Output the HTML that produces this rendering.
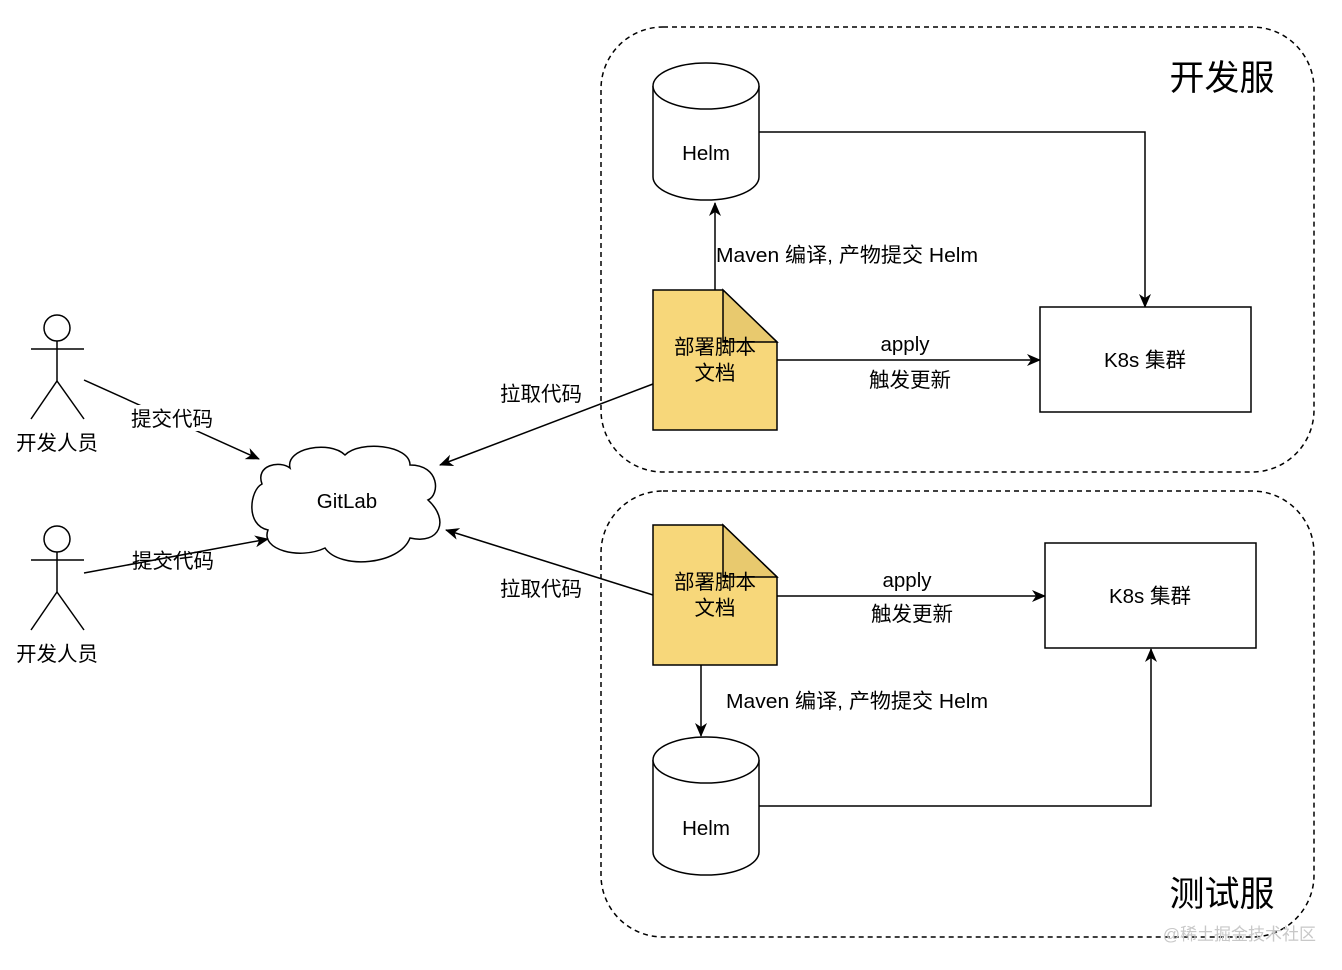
<!DOCTYPE html>
<html><head><meta charset="utf-8"><style>
html,body{margin:0;padding:0;background:#fff;}
svg{display:block;}
text{font-family:"Liberation Sans","Noto Sans CJK SC",sans-serif;fill:#000;}
</style></head><body>
<svg width="1342" height="970" viewBox="0 0 1342 970" xmlns="http://www.w3.org/2000/svg">
<defs>
<marker id="a" viewBox="0 0 14 14" refX="13" refY="7" markerWidth="14" markerHeight="14" markerUnits="userSpaceOnUse" orient="auto">
<path d="M0,1 L14,7 L0,13 L4,7 Z" fill="#000"/></marker>
</defs>
<g fill="none" stroke="#000" stroke-width="1.5">
<rect x="601" y="27" width="713" height="445" rx="62" stroke-dasharray="5,4"/>
<rect x="601" y="491" width="713" height="446" rx="62" stroke-dasharray="5,4"/>
</g>
<text x="1222" y="90" font-size="35" text-anchor="middle">开发服</text>
<text x="1222" y="906" font-size="35" text-anchor="middle">测试服</text>

<g fill="none" stroke="#000" stroke-width="1.5">
<circle cx="57" cy="328" r="13"/><line x1="57" y1="341" x2="57" y2="381"/><line x1="31" y1="349" x2="84" y2="349"/><line x1="57" y1="381" x2="31" y2="419"/><line x1="57" y1="381" x2="84" y2="419"/>
<circle cx="57" cy="539" r="13"/><line x1="57" y1="552" x2="57" y2="592"/><line x1="31" y1="560" x2="84" y2="560"/><line x1="57" y1="592" x2="31" y2="630"/><line x1="57" y1="592" x2="84" y2="630"/>
</g>
<text x="57" y="450" font-size="20.5" text-anchor="middle">开发人员</text>
<text x="57" y="661" font-size="20.5" text-anchor="middle">开发人员</text>

<path d="M290,468 C285,448 330,440 345,455 C360,440 410,445 410,465 C440,465 440,495 428,500 C450,520 440,545 410,538 C400,565 340,570 325,548 C300,560 260,550 268,530 C245,525 250,490 262,484 C255,465 280,460 290,468 Z" fill="#fff" stroke="#000" stroke-width="1.5"/>
<text x="347" y="508" font-size="20.5" text-anchor="middle">GitLab</text>

<g fill="none" stroke="#000" stroke-width="1.5">
<line x1="84" y1="380" x2="259" y2="459" marker-end="url(#a)"/>
<line x1="84" y1="573" x2="268" y2="539" marker-end="url(#a)"/>
<line x1="653" y1="384" x2="440" y2="465" marker-end="url(#a)"/>
<line x1="653" y1="595" x2="446" y2="530" marker-end="url(#a)"/>
<line x1="715" y1="290" x2="715" y2="203" marker-end="url(#a)"/>
<line x1="777" y1="360" x2="1040" y2="360" marker-end="url(#a)"/>
<polyline points="759,132 1145,132 1145,307" marker-end="url(#a)"/>
<line x1="777" y1="596" x2="1045" y2="596" marker-end="url(#a)"/>
<line x1="701" y1="665" x2="701" y2="736" marker-end="url(#a)"/>
<polyline points="759,806 1151,806 1151,649" marker-end="url(#a)"/>
</g>
<rect x="128" y="405" width="88" height="26" fill="#fff"/>
<text x="172" y="426" font-size="20.5" text-anchor="middle">提交代码</text>
<text x="173" y="568" font-size="20.5" text-anchor="middle">提交代码</text>
<text x="541" y="401" font-size="20.5" text-anchor="middle">拉取代码</text>
<text x="541" y="596" font-size="20.5" text-anchor="middle">拉取代码</text>
<rect x="716" y="242" width="262" height="26" fill="#fff"/>
<text x="716" y="262" font-size="20.5" textLength="262" lengthAdjust="spacingAndGlyphs">Maven 编译, 产物提交 Helm</text>
<text x="726" y="708" font-size="20.5" textLength="262" lengthAdjust="spacingAndGlyphs">Maven 编译, 产物提交 Helm</text>
<text x="905" y="351" font-size="20.5" text-anchor="middle">apply</text>
<text x="910" y="387" font-size="20.5" text-anchor="middle">触发更新</text>
<text x="907" y="587" font-size="20.5" text-anchor="middle">apply</text>
<text x="912" y="621" font-size="20.5" text-anchor="middle">触发更新</text>

<g fill="#fff" stroke="#000" stroke-width="1.5">
<path d="M653,86 L653,177 A53,23 0 0 0 759,177 L759,86"/>
<ellipse cx="706" cy="86" rx="53" ry="23"/>
<path d="M653,760 L653,852 A53,23 0 0 0 759,852 L759,760"/>
<ellipse cx="706" cy="760" rx="53" ry="23"/>
</g>
<text x="706" y="160" font-size="20.5" text-anchor="middle">Helm</text>
<text x="706" y="835" font-size="20.5" text-anchor="middle">Helm</text>

<g fill="#fff" stroke="#000" stroke-width="1.5">
<rect x="1040" y="307" width="211" height="105"/>
<rect x="1045" y="543" width="211" height="105"/>
</g>
<text x="1145" y="367" font-size="20.5" text-anchor="middle">K8s 集群</text>
<text x="1150" y="603" font-size="20.5" text-anchor="middle">K8s 集群</text>

<g stroke="#000" stroke-width="1.5">
<path d="M653,290 L723,290 L777,342 L777,430 L653,430 Z" fill="#f7d77a"/>
<path d="M723,290 L723,342 L777,342 Z" fill="#e8c96e"/>
<path d="M653,525 L723,525 L777,577 L777,665 L653,665 Z" fill="#f7d77a"/>
<path d="M723,525 L723,577 L777,577 Z" fill="#e8c96e"/>
</g>
<text x="715" y="354" font-size="20.5" text-anchor="middle">部署脚本</text>
<text x="715" y="380" font-size="20.5" text-anchor="middle">文档</text>
<text x="715" y="589" font-size="20.5" text-anchor="middle">部署脚本</text>
<text x="715" y="615" font-size="20.5" text-anchor="middle">文档</text>
<text x="1316" y="940" font-size="17" text-anchor="end" style="fill:#c8c8c8">@稀土掘金技术社区</text>
</svg>
</body></html>
